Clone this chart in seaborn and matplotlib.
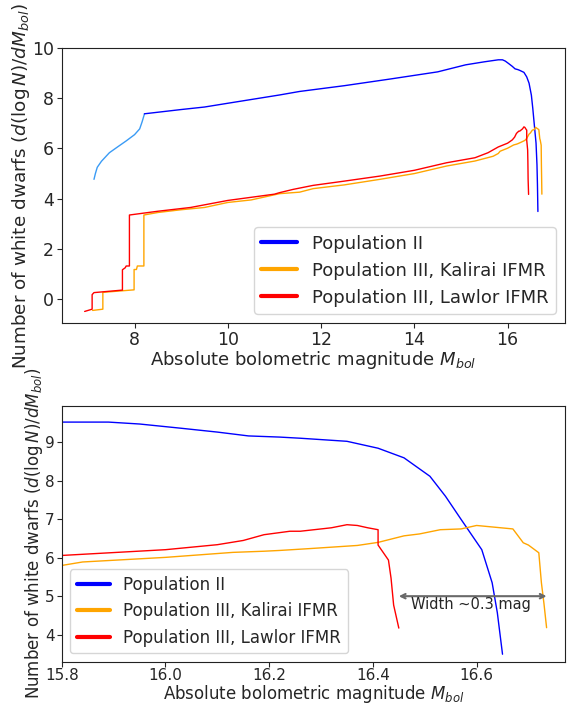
import numpy as np
import pandas as pd
import matplotlib
matplotlib.use("Agg")
import matplotlib.pyplot as plt
import seaborn as sns
from matplotlib.lines import Line2D

sns.set_style("ticks")
plt.rcParams['font.family'] = ['DejaVu Sans']

# Population II: early (light blue) part
pop2_early_x = [7.13, 7.16, 7.2, 7.29, 7.46, 7.65, 7.82, 8.0, 8.11, 8.16, 8.21]
pop2_early_y = [4.77, 5.0, 5.25, 5.49, 5.83, 6.08, 6.3, 6.55, 6.78, 7.05, 7.36]
# Population II: main part
pop2_x = [8.21, 9.0, 9.5, 10.0, 11.11, 11.54, 12.5, 13.5, 14.5, 15.1, 15.5, 15.8, 15.89, 15.95,
          16.03, 16.1, 16.16, 16.22, 16.26, 16.35, 16.41, 16.46, 16.51, 16.54, 16.57, 16.61,
          16.63, 16.64, 16.65]
pop2_y = [7.38, 7.55, 7.65, 7.8, 8.13, 8.27, 8.5, 8.77, 9.05, 9.33, 9.45, 9.53, 9.53, 9.48,
          9.37, 9.27, 9.17, 9.14, 9.11, 9.03, 8.85, 8.6, 8.12, 7.6, 7.0, 6.21,
          5.35, 4.57, 3.49]

# Population III, Kalirai IFMR
kal_x = [7.10, 7.32, 7.32, 7.99, 7.99, 8.04, 8.06, 8.2, 8.2, 8.5, 9.0, 9.5, 10.0, 10.5, 11.11,
         11.54, 11.83, 12.5, 13.26, 14.0, 14.69, 15.3, 15.69, 15.8, 15.84, 16.0, 16.13, 16.19,
         16.22, 16.28, 16.37, 16.41, 16.46, 16.49, 16.53, 16.57, 16.6, 16.67, 16.69, 16.7,
         16.72, 16.725, 16.73, 16.735]
kal_y = [-0.45, -0.40, 0.27, 0.37, 1.18, 1.18, 1.32, 1.32, 3.35, 3.45, 3.56, 3.65, 3.85, 3.95,
         4.2, 4.26, 4.4, 4.55, 4.77, 5.0, 5.3, 5.5, 5.69, 5.8, 5.89, 6.01, 6.14, 6.17,
         6.19, 6.24, 6.32, 6.4, 6.57, 6.62, 6.73, 6.75, 6.84, 6.75, 6.39, 6.33,
         6.13, 5.35, 4.8, 4.18]

# Population III, Lawlor IFMR
law_x = [6.93, 7.09, 7.09, 7.13, 7.74, 7.74, 7.8, 7.82, 7.89, 7.89, 8.5, 9.2, 10.0, 11.0, 11.11,
         11.4, 11.83, 12.5, 13.26, 14.0, 14.69, 15.3, 15.58, 15.8, 16.0, 16.1, 16.15, 16.19,
         16.24, 16.26, 16.32, 16.35, 16.37, 16.39, 16.41, 16.41, 16.43, 16.435, 16.44, 16.45]
law_y = [-0.49, -0.40, 0.18, 0.26, 0.36, 1.17, 1.25, 1.32, 1.32, 3.35, 3.5, 3.65, 3.93, 4.18, 4.24,
         4.37, 4.53, 4.7, 4.9, 5.13, 5.43, 5.63, 5.83, 6.06, 6.21, 6.34, 6.45, 6.6,
         6.69, 6.69, 6.78, 6.86, 6.84, 6.78, 6.73, 6.33, 5.94, 5.47, 4.77, 4.17]

labels = ["Population II", "Population III, Kalirai IFMR", "Population III, Lawlor IFMR"]
colors = ["blue", "orange", "red"]
early_color = "#3a9bf5"

fig = plt.figure(figsize=(5.67, 7.06), dpi=100)
ax1 = fig.add_axes([0.109, 0.5425, 0.887, 0.3895])
ax2 = fig.add_axes([0.109, 0.063, 0.887, 0.362])

def draw(ax):
    sns.lineplot(x=pop2_early_x, y=pop2_early_y, ax=ax, color=early_color, lw=1.0,
                 sort=False, estimator=None)
    sns.lineplot(x=pop2_x, y=pop2_y, ax=ax, color=colors[0], lw=1.0, sort=False, estimator=None)
    sns.lineplot(x=kal_x, y=kal_y, ax=ax, color=colors[1], lw=1.0, sort=False, estimator=None)
    sns.lineplot(x=law_x, y=law_y, ax=ax, color=colors[2], lw=1.0, sort=False, estimator=None)

ylabel = r"Number of white dwarfs $(d(\log N)/dM_{bol})$"
xlabel = r"Absolute bolometric magnitude $M_{bol}$"

draw(ax1)
ax1.set_xticks([8, 10, 12, 14, 16])
ax1.set_yticks([0, 2, 4, 6, 8, 10])
ax1.set_ylim(-0.95, 10.0)
ax1.tick_params(labelsize=12.5, length=3.5, pad=2)
ax1.set_xlabel(xlabel, fontsize=13, labelpad=0)
ax1.set_ylabel(ylabel, fontsize=13.2, labelpad=0)
handles = [Line2D([], [], color=c, lw=3) for c in colors]
ax1.legend(handles, labels, loc="lower right", fontsize=13, handlelength=2)

draw(ax2)
ax2.set_xlim(15.8, 16.77)
ax2.set_ylim(3.3, 9.95)
ax2.set_xticks([15.8, 16.0, 16.2, 16.4, 16.6])
ax2.set_yticks([4, 5, 6, 7, 8, 9])
ax2.tick_params(labelsize=11, length=3.5, pad=1.5)
ax2.set_xlabel(xlabel, fontsize=12, labelpad=-0.5)
ax2.set_ylabel(ylabel, fontsize=12, labelpad=0)
handles = [Line2D([], [], color=c, lw=3) for c in colors]
ax2.legend(handles, labels, loc="lower left", fontsize=12, handlelength=2)
ax2.annotate("", xy=(16.45, 5.0), xytext=(16.735, 5.0),
             arrowprops=dict(arrowstyle="<->", color="dimgray", lw=1.5, shrinkA=0, shrinkB=0,
                             mutation_scale=8))
ax2.text(16.59, 4.97, "Width ~0.3 mag", ha="center", va="top", fontsize=10.5)

for ax in (ax1, ax2):
    for s in ax.spines.values():
        s.set_visible(True)
        s.set_color("#222222")

fig.savefig("out.png", dpi=100)
